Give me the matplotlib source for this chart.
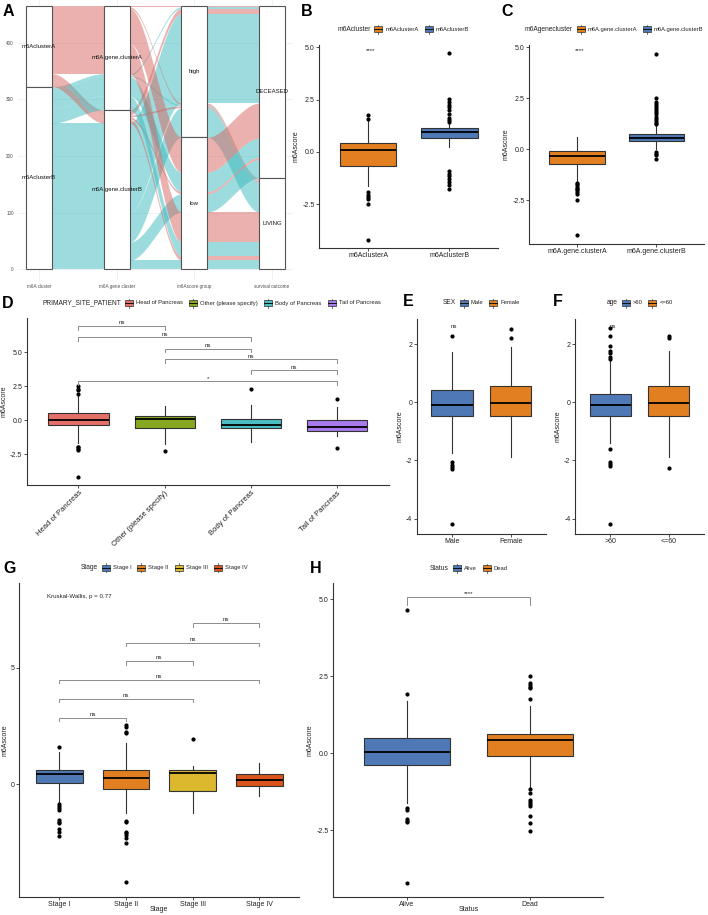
import numpy as np
import matplotlib
matplotlib.use("Agg")
import matplotlib.pyplot as plt
from matplotlib.patches import Rectangle
from matplotlib.lines import Line2D

plt.rcParams['font.family'] = ['Liberation Sans', 'DejaVu Sans']
plt.rcParams['axes.unicode_minus'] = False

# ---------------- data ----------------
# A: alluvial (one row per combination of the four variables)
alluvial_axes = ["m6A cluster", "m6A gene cluster", "m6Ascore group", "survival outcome"]
strata_levels = [["m6AclusterA", "m6AclusterB"],
                 ["m6A.gene.clusterA", "m6A.gene.clusterB"],
                 ["high", "low"],
                 ["DECEASED", "LIVING"]]
combo_cluster = [0, 1, 0, 1, 0, 1, 0, 1, 0, 1, 0, 1, 0, 1, 0, 1]
combo_gene = [0, 0, 1, 1, 0, 0, 1, 1, 0, 0, 1, 1, 0, 0, 1, 1]
combo_score = [0, 0, 0, 0, 0, 0, 0, 0, 1, 1, 1, 1, 1, 1, 1, 1]
combo_outcome = [0, 0, 0, 0, 1, 1, 1, 1, 0, 0, 0, 0, 1, 1, 1, 1]
combo_count = [2, 3, 9, 158, 3, 2, 3, 52, 62, 34, 4, 32, 53, 25, 7, 16]

# B
b_groups = ["m6AclusterA", "m6AclusterB"]
b_q1 = [-0.68, 0.65]
b_med = [0.08, 0.96]
b_q3 = [0.44, 1.13]
b_lo = [-1.6, 0.24]
b_hi = [1.48, 1.38]
b_out = [[1.78, 1.59, -1.91, -2.04, -2.15, -2.26, -2.5, -4.19],
         [4.7, 2.53, 2.39, 2.23, 2.12, 1.99, 1.83, 1.64, 1.54, 1.43,
          -0.91, -1.03, -1.16, -1.3, -1.43, -1.59, -1.75]]

# C
c_groups = ["m6A.gene.clusterA", "m6A.gene.clusterB"]
c_q1 = [-0.70, 0.42]
c_med = [-0.34, 0.55]
c_q3 = [-0.08, 0.72]
c_lo = [-1.55, 0.0]
c_hi = [0.6, 1.15]
c_out = [[-1.65, -1.72, -1.8, -1.88, -1.95, -2.02, -2.1, -2.2, -2.5, -4.18],
         [4.65, 2.5, 2.3, 2.2, 2.1, 2.0, 1.9, 1.8, 1.7, 1.6, 1.5, 1.4, 1.3, 1.22,
          -0.12, -0.22, -0.3, -0.5]]

# D
d_groups = ["Head of Pancreas", "Other (please specify)", "Body of Pancreas", "Tail of Pancreas"]
d_q1 = [-0.37, -0.61, -0.59, -0.81]
d_med = [0.0, 0.07, -0.32, -0.47]
d_q3 = [0.54, 0.29, 0.12, 0.0]
d_lo = [-1.7, -1.74, -1.62, -1.13]
d_hi = [1.85, 1.05, 1.13, 0.93]
d_out = [[2.5, 2.3, 2.2, 1.95, -1.95, -2.0, -2.1, -2.2, -4.19], [-2.28], [2.28], [1.59, -2.03]]
d_pairs = [(1, 2), (1, 3), (2, 3), (2, 4), (3, 4), (1, 4)]
d_pair_y = [6.89, 6.08, 5.25, 4.46, 3.65, 2.84]
d_pair_lab = ["ns", "ns", "ns", "ns", "ns", "*"]

# E
e_groups = ["Male", "Female"]
e_q1 = [-0.49, -0.49]
e_med = [-0.10, -0.03]
e_q3 = [0.42, 0.55]
e_lo = [-1.75, -1.89]
e_hi = [1.71, 1.91]
e_out = [[2.26, -2.04, -2.15, -2.21, -2.29, -4.19], [2.51, 2.2]]

# F
f_groups = [">60", "<=60"]
f_q1 = [-0.49, -0.49]
f_med = [-0.10, -0.03]
f_q3 = [0.27, 0.55]
f_lo = [-1.4, -1.89]
f_hi = [1.4, 1.76]
f_out = [[2.55, 2.26, 1.94, 1.75, 1.69, 1.54, 1.48, -1.62, -2.04, -2.12, -2.18, -4.19],
         [2.28, 2.2, -2.27]]

# G
g_groups = ["Stage I", "Stage II", "Stage III", "Stage IV"]
g_q1 = [0.04, -0.21, -0.29, -0.07]
g_med = [0.46, 0.26, 0.49, 0.17]
g_q3 = [0.60, 0.59, 0.59, 0.44]
g_lo = [-0.79, -1.24, -1.24, -0.49]
g_hi = [1.37, 1.76, 0.8, 0.9]
g_out = [[1.59, -0.86, -0.93, -1.0, -1.11, -1.53, -1.6, -1.67, -1.93, -2.04, -2.21],
         [2.53, 2.47, 2.26, 2.19, -1.56, -1.63, -2.03, -2.1, -2.17, -2.31, -2.53, -4.21],
         [1.94], []]
g_pairs = [(1, 2), (1, 3), (1, 4), (2, 3), (2, 4), (3, 4)]
g_pair_y = [2.86, 3.66, 4.47, 5.27, 6.07, 6.90]

# H
h_groups = ["Alive", "Dead"]
h_q1 = [-0.38, -0.08]
h_med = [0.03, 0.44]
h_q3 = [0.51, 0.64]
h_lo = [-1.62, -1.14]
h_hi = [1.71, 1.55]
h_out = [[4.65, 1.94, -1.79, -1.86, -2.14, -2.19, -2.24, -4.2],
         [2.51, 2.27, 2.22, 2.16, 2.11, 1.75, -1.17, -1.28, -1.52, -1.6, -1.66, -1.73,
          -2.03, -2.28, -2.52]]

blue = "#4E79B6"
orange = "#E17F21"
site_cols = ["#E46F68", "#86A821", "#4CBDC2", "#A97AEE"]
stage_cols = [blue, orange, "#DCB82F", "#D9541C"]
flow_cols = ["#D6655E", "#3AB9BE"]

# ---------------- figure ----------------
W, H = 708, 915
fig = plt.figure(figsize=(W / 100, H / 100), dpi=100)
renderer = fig.canvas.get_renderer()
TXT = "#222222"


def px_axes(l, t, r, b):
    return fig.add_axes([l / W, 1 - b / H, (r - l) / W, (b - t) / H])


def letter(x, y, s):
    fig.text(x / W, 1 - y / H, s, fontsize=11.5, fontweight='bold', ha='left', va='top')


def legend_px(xc, y, title, labels, colors, tsize=4.8, lsize=4.2):
    # measure first, then draw centred on xc
    tt = fig.text(0, 0, title, fontsize=tsize)
    tw = tt.get_window_extent(renderer).width
    tt.remove()
    lws = []
    for lab in labels:
        tl = fig.text(0, 0, lab, fontsize=lsize)
        lws.append(tl.get_window_extent(renderer).width)
        tl.remove()
    gw, gh = 8, 6
    total_w = tw + 4 + sum(gw + 3 + lw for lw in lws) + 6 * (len(labels) - 1)
    x = xc - total_w / 2
    fig.text(x / W, 1 - y / H, title, fontsize=tsize, va='center', ha='left', color=TXT)
    x += tw + 4
    for lab, c, lw_ in zip(labels, colors, lws):
        fig.add_artist(Rectangle((x / W, 1 - (y + gh / 2) / H), gw / W, gh / H,
                                 transform=fig.transFigure, facecolor=c,
                                 edgecolor='#333333', lw=0.5))
        fig.add_artist(Line2D([x / W, (x + gw) / W], [1 - y / H] * 2,
                              transform=fig.transFigure, color='#111111', lw=0.7))
        for d in (-1, 1):
            fig.add_artist(Line2D([(x + gw / 2) / W] * 2,
                                  [1 - (y + d * gh / 2) / H, 1 - (y + d * (gh / 2 + 1.5)) / H],
                                  transform=fig.transFigure, color='#333333', lw=0.5))
        x += gw + 3
        fig.text(x / W, 1 - y / H, lab, fontsize=lsize, va='center', ha='left', color=TXT)
        x += lw_ + 6


def box_panel(ax, groups, colors, q1, med, q3, lo, hi, out, ylim, yticks, fmt, rot=0):
    stats = [dict(q1=a, med=m, q3=b, whislo=l, whishi=h, fliers=o)
             for a, m, b, l, h, o in zip(q1, med, q3, lo, hi, out)]
    bp = ax.bxp(stats, positions=range(1, len(groups) + 1), widths=0.7,
                patch_artist=True, showcaps=False,
                boxprops=dict(edgecolor='#333333', linewidth=0.8),
                whiskerprops=dict(color='#333333', linewidth=0.8),
                medianprops=dict(color='black', linewidth=1.3),
                flierprops=dict(marker='o', markerfacecolor='black',
                                markeredgecolor='black', markersize=2.0))
    for patch, c in zip(bp['boxes'], colors):
        patch.set_facecolor(c)
    ax.set_xlim(0.4, len(groups) + 0.6)
    ax.set_ylim(*ylim)
    for s in ['top', 'right']:
        ax.spines[s].set_visible(False)
    for s in ['left', 'bottom']:
        ax.spines[s].set_color('#333333')
        ax.spines[s].set_linewidth(0.8)
    ax.set_xticks(range(1, len(groups) + 1))
    if rot:
        ax.set_xticklabels(groups, fontsize=5.5, color=TXT, rotation=rot,
                           ha='right', rotation_mode='anchor')
    else:
        ax.set_xticklabels(groups, fontsize=5, color=TXT)
    ax.set_yticks(yticks)
    ax.set_yticklabels([fmt.format(v) for v in yticks], fontsize=5, color=TXT)
    ax.tick_params(length=2, width=0.6, color='#333333', pad=1.2)
    ax.set_ylabel('m6Ascore', fontsize=5, color=TXT, labelpad=2)


def bracket(ax, x1, x2, y, lab, tick, size=4.4):
    ax.plot([x1, x1, x2, x2], [y - tick, y, y, y - tick], color='#8C8C8C', lw=0.7)
    ax.annotate(lab, (0.5 * (x1 + x2), y), xytext=(0, 0.6), textcoords='offset points',
                ha='center', va='bottom', fontsize=size, color=TXT)


# ---------------- A: alluvial ----------------
axA = px_axes(18, 0, 293, 280)
levels = np.array([combo_cluster, combo_gene, combo_score, combo_outcome]).T
counts = np.array(combo_count)
total = counts.sum()
n = len(counts)
zigzag = [[0, 1, 2, 3], [1, 0, 2, 3], [2, 3, 1, 0], [3, 2, 1, 0]]
pos = np.zeros((n, 4, 2))
for k in range(4):
    order = sorted(range(n), key=lambda j: tuple(levels[j, a] for a in zigzag[k]))
    y = total
    for j in order:
        pos[j, k] = (y - counts[j], y)
        y -= counts[j]

w = 1 / 3
t = np.linspace(0, 1, 60)
s = t * t * (3 - 2 * t)
for j in range(n):
    col = flow_cols[levels[j, 0]]
    for k in range(3):
        x0, x1 = k + 1 + w / 2, k + 2 - w / 2
        xs = x0 + (x1 - x0) * t
        lo = pos[j, k, 0] + (pos[j, k + 1, 0] - pos[j, k, 0]) * s
        hi = pos[j, k, 1] + (pos[j, k + 1, 1] - pos[j, k, 1]) * s
        axA.fill_between(xs, lo, hi, color=col, alpha=0.5, lw=0, zorder=1)

for k in range(4):
    top = total
    for li, name in enumerate(strata_levels[k]):
        size = counts[levels[:, k] == li].sum()
        axA.add_patch(Rectangle((k + 1 - w / 2, top - size), w, size, facecolor='white',
                                edgecolor='#555555', lw=0.8, zorder=3))
        axA.text(k + 1, top - size / 2, name, ha='center', va='center',
                 fontsize=4.3, color='#111111', zorder=4)
        top -= size

axA.set_xlim(0.73, 4.27)
axA.set_ylim(-19, 475)
axA.set_xticks(range(1, 5))
axA.set_xticklabels(alluvial_axes, fontsize=3.3, color='#4D4D4D')
axA.set_yticks([0, 100, 200, 300, 400])
axA.set_yticklabels(['0', '100', '200', '300', '400'], fontsize=3.3, color='#4D4D4D')
axA.tick_params(length=0, pad=3)
axA.grid(True, color='#EBEBEB', lw=0.5)
axA.set_axisbelow(True)
for sp in axA.spines.values():
    sp.set_visible(False)

# ---------------- B ----------------
axB = px_axes(319.3, 45, 498, 248)
box_panel(axB, b_groups, [orange, blue], b_q1, b_med, b_q3, b_lo, b_hi, b_out,
          (-4.58, 5.1), [-2.5, 0, 2.5, 5.0], "{:.1f}")
axB.text(1.03, 4.85, "****", ha='center', va='center', fontsize=4.4, color=TXT)
legend_px(403, 29.3, "m6Acluster", b_groups, [orange, blue])

# ---------------- C ----------------
axC = px_axes(529.3, 45, 704, 244)
box_panel(axC, c_groups, [orange, blue], c_q1, c_med, c_q3, c_lo, c_hi, c_out,
          (-4.64, 5.1), [-2.5, 0, 2.5, 5.0], "{:.1f}")
axC.text(1.03, 4.85, "****", ha='center', va='center', fontsize=4.4, color=TXT)
legend_px(614, 29.3, "m6Agenecluster", c_groups, [orange, blue])

# ---------------- D ----------------
axD = px_axes(26.7, 318, 389, 485)
box_panel(axD, d_groups, site_cols, d_q1, d_med, d_q3, d_lo, d_hi, d_out,
          (-4.76, 7.5), [-2.5, 0, 2.5, 5.0], "{:.1f}", rot=45)
for (a, b), yv, lab in zip(d_pairs, d_pair_y, d_pair_lab):
    bracket(axD, a, b, yv, lab, 0.25)
legend_px(211.5, 303, "PRIMARY_SITE_PATIENT", d_groups, site_cols)

# ---------------- E ----------------
axE = px_axes(416.7, 319, 546, 534)
box_panel(axE, e_groups, [blue, orange], e_q1, e_med, e_q3, e_lo, e_hi, e_out,
          (-4.53, 2.86), [-4, -2, 0, 2], "{:g}")
axE.text(1.04, 2.6, "ns", ha='center', va='center', fontsize=4.4, color=TXT)
legend_px(481, 303, "SEX", e_groups, [blue, orange])

# ---------------- F ----------------
axF = px_axes(575, 319, 704, 534)
box_panel(axF, f_groups, [blue, orange], f_q1, f_med, f_q3, f_lo, f_hi, f_out,
          (-4.53, 2.86), [-4, -2, 0, 2], "{:g}")
axF.text(1.04, 2.6, "ns", ha='center', va='center', fontsize=4.4, color=TXT)
legend_px(639.7, 303, "age", f_groups, [blue, orange])

# ---------------- G ----------------
axG = px_axes(19.3, 582.7, 299.3, 896.7)
box_panel(axG, g_groups, stage_cols, g_q1, g_med, g_q3, g_lo, g_hi, g_out,
          (-4.82, 8.64), [0, 5], "{:g}")
for (a, b), yv in zip(g_pairs, g_pair_y):
    bracket(axG, a, b, yv, "ns", 0.15)
axG.text(0.81, 8.04, "Kruskal-Wallis, p = 0.77", ha='left', va='center', fontsize=4.4, color=TXT)
fig.text(159.3 / W, 1 - 909.5 / H, "Stage", fontsize=5, color=TXT, ha='center', va='center')
legend_px(164, 567.7, "Stage", g_groups, stage_cols)

# ---------------- H ----------------
axH = px_axes(333.3, 583.3, 603.3, 896.7)
box_panel(axH, h_groups, [blue, orange], h_q1, h_med, h_q3, h_lo, h_hi, h_out,
          (-4.66, 5.52), [-2.5, 0, 2.5, 5.0], "{:.1f}")
bracket(axH, 1, 2, 5.08, "****", 0.27)
fig.text(468.3 / W, 1 - 909.5 / H, "Status", fontsize=5, color=TXT, ha='center', va='center')
legend_px(468.8, 568, "Status", h_groups, [blue, orange])

# panel letters
for x, y, sl in [(3, 4, "A"), (301, 4, "B"), (501, 4, "C"), (2, 296, "D"),
                 (403, 294, "E"), (553, 294, "F"), (3, 561, "G"), (310, 561, "H")]:
    letter(x, y, sl)

fig.savefig("out.png", dpi=100)
